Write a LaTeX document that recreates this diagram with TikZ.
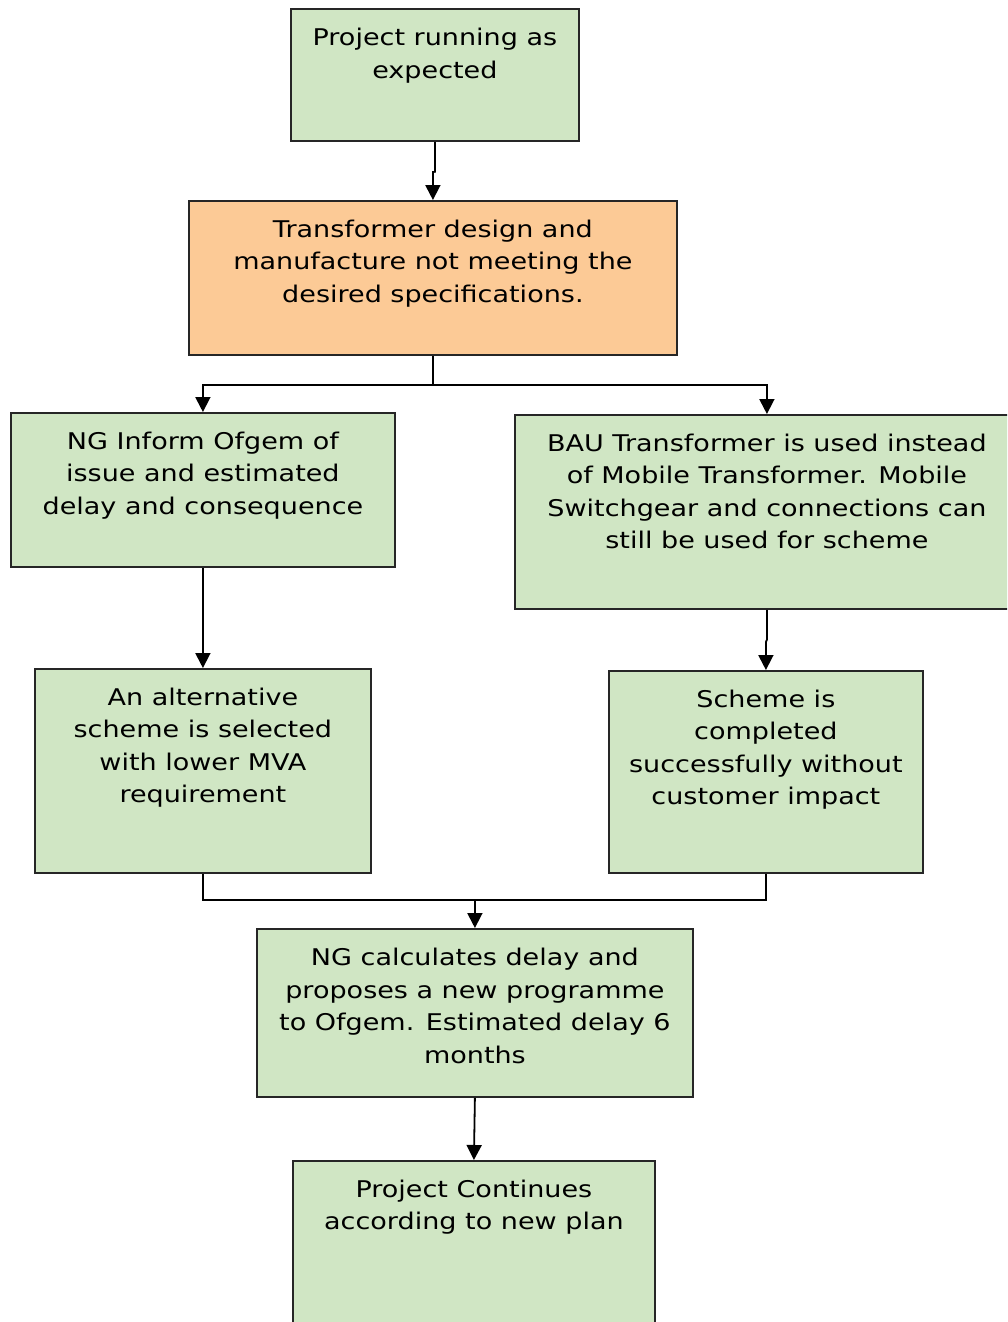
\documentclass[tikz,border=0pt]{standalone}
\usepackage{fontspec}
\setmainfont{DejaVu Sans}[FakeStretch=1.175]
\usetikzlibrary{arrows.meta,calc}
\definecolor{stepgreen}{RGB}{208,230,196}
\definecolor{riskorange}{RGB}{252,202,150}
\begin{document}
\begin{tikzpicture}[x=1pt,y=-1pt,
  box/.style={draw=black!85,line width=1.8pt,fill=stepgreen,rectangle,inner sep=0pt,anchor=north west},
  riskbox/.style={box,fill=riskorange},
  lbl/.style={align=center,inner sep=0pt,anchor=north,font=\fontsize{23}{32.5}\selectfont,execute at begin node=\strut},
  conn/.style={line width=1.8pt,-{Triangle[width=15pt,length=15pt]}},
  plain/.style={line width=1.8pt}]
\useasboundingbox (0,0) rectangle (1007,1322);
\clip (0,0) rectangle (1007,1322);

% boxes
\node[box,minimum width=288,minimum height=132] (b1) at (290,8) {};
\node[riskbox,minimum width=488,minimum height=154] (b2) at (188,200) {};
\node[box,minimum width=384,minimum height=154] (b3) at (10,412) {};
\node[box,minimum width=504,minimum height=194] (b4) at (514,414) {};
\node[box,minimum width=336,minimum height=204] (b5) at (34,668) {};
\node[box,minimum width=314,minimum height=202] (b6) at (608,670) {};
\node[box,minimum width=436,minimum height=168] (b7) at (256,928) {};
\node[box,minimum width=362,minimum height=200] (b8) at (292,1160) {};

% texts (first baseline about 42pt below each box top)
\node[lbl] (t1) at ($(b1.north)+(0,20)$) {Project running as\\expected};
\node[lbl] (t2) at ($(b2.north)+(0,19.5)$) {Transformer design and\\manufacture not meeting the\\desired specifications.};
\node[lbl] (t3) at ($(b3.north)+(0,19.5)$) {NG Inform Ofgem of\\issue and estimated\\delay and consequence};
\node[lbl] (t4) at ($(b4.north)+(0,19.5)$) {BAU Transformer is used instead\\of Mobile Transformer. Mobile\\Switchgear and connections can\\still be used for scheme};
\node[lbl] (t5) at ($(b5.north)+(0,19.5)$) {An alternative\\scheme is selected\\with lower MVA\\requirement};
\node[lbl] (t6) at ($(b6.north)+(0,19.5)$) {Scheme is\\completed\\successfully without\\customer impact};
\node[lbl] (t7) at ($(b7.north)+(0,20)$) {NG calculates delay and\\proposes a new programme\\to Ofgem. Estimated delay 6\\months};
\node[lbl] (t8) at ($(b8.north)+(0,19.5)$) {Project Continues\\according to new plan};

% connectors
\draw[conn] (b1.south) -- ($(b1.south)+(0,30)$) -- ($(b2.north)+(0,-28)$) -- (b2.north);
\coordinate (split) at ($(b2.south)+(0,29)$);
\draw[plain] (b2.south) -- (split);
\draw[conn] (split) -| (b3.north);
\draw[conn] (split) -| (b4.north);
\draw[conn] (b3.south) -- (b5.north);
\draw[conn] (b4.south) -- ($(b4.south)+(0,30)$) -- ($(b6.north)+(0,-28)$) -- (b6.north);
\coordinate (join) at ($(b7.north)+(0,-28)$);
\draw[plain] (b5.south) |- (join);
\draw[plain] (b6.south) |- (join);
\draw[conn] (join) -- (b7.north);
\draw[conn] (b7.south) -- (b8.north);
\end{tikzpicture}
\end{document}
